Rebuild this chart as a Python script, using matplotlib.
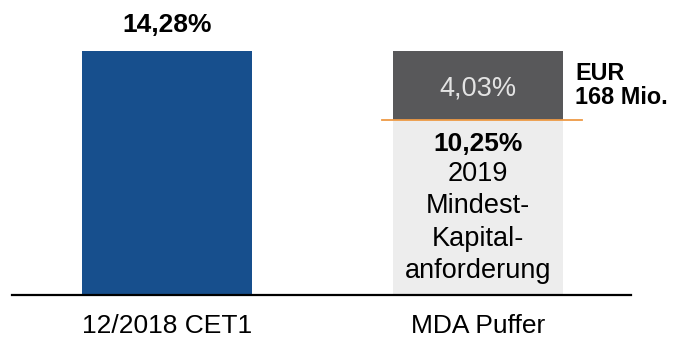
import matplotlib.pyplot as plt

plt.rcParams['font.family'] = ['Liberation Sans', 'DejaVu Sans']

# CET1 ratio vs. minimum requirement + MDA buffer
categories = ['12/2018 CET1', 'MDA Puffer']
cet1_ratio = 14.28
min_requirement = 10.25
mda_buffer = 4.03
buffer_label = 'EUR\n168 Mio.'
requirement_label = '2019\nMindest-\nKapital-\nanforderung'

blue = '#174F8D'
dark_grey = '#58585A'
light_grey = '#EDEDED'
orange = '#EE9A45'

PX = 0.72  # points per pixel at 100 dpi


def pct(v):
    return f'{v:.2f}%'.replace('.', ',')


fig = plt.figure(figsize=(6.73, 3.37), dpi=100)
ax = fig.add_axes([12 / 673, 42 / 337, 619 / 673, 244 / 337])

x = [0, 1]
w = 0.547
ax.bar(x[0], cet1_ratio, width=w, color=blue)
ax.bar(x[1], min_requirement, width=w, color=light_grey)
ax.bar(x[1], mda_buffer, bottom=min_requirement, width=w, color=dark_grey)

ax.set_xlim(-0.498, 1.492)
ax.set_ylim(0, cet1_ratio)

# orange threshold line at the minimum requirement
ax.plot([1 - 0.309, 1 + 0.334], [min_requirement] * 2, color=orange,
        lw=1.3, clip_on=False, zorder=3)

# base line
ax.axhline(0, color='black', lw=1.6, clip_on=False)

ax.annotate(pct(cet1_ratio), xy=(x[0], cet1_ratio), xytext=(0, 26 * PX),
            textcoords='offset points', ha='center', va='center',
            fontsize=19, fontweight='bold')

ax.annotate(pct(mda_buffer), xy=(x[1], min_requirement + mda_buffer / 2),
            xytext=(0, -3 * PX), textcoords='offset points', ha='center',
            va='center', fontsize=19.5, color='#E3E3E3')

ax.annotate(buffer_label, xy=(x[1] + w / 2, min_requirement + mda_buffer / 2),
            xytext=(12 * PX, 0), textcoords='offset points', ha='left',
            va='center', fontsize=16.8, fontweight='bold', linespacing=1.05)

ax.annotate(pct(min_requirement), xy=(x[1], min_requirement),
            xytext=(0, -24 * PX), textcoords='offset points', ha='center',
            va='center', fontsize=19, fontweight='bold')

for i, line in enumerate(requirement_label.split('\n')):
    ax.annotate(line, xy=(x[1], min_requirement),
                xytext=(0, -(54 + 32.5 * i) * PX), textcoords='offset points',
                ha='center', va='center', fontsize=19.5)

for xi, lab in zip(x, categories):
    ax.annotate(lab, xy=(xi, 0), xytext=(0, -31 * PX), textcoords='offset points',
                ha='center', va='center', fontsize=19)

ax.axis('off')
fig.savefig('out.png', dpi=100)
